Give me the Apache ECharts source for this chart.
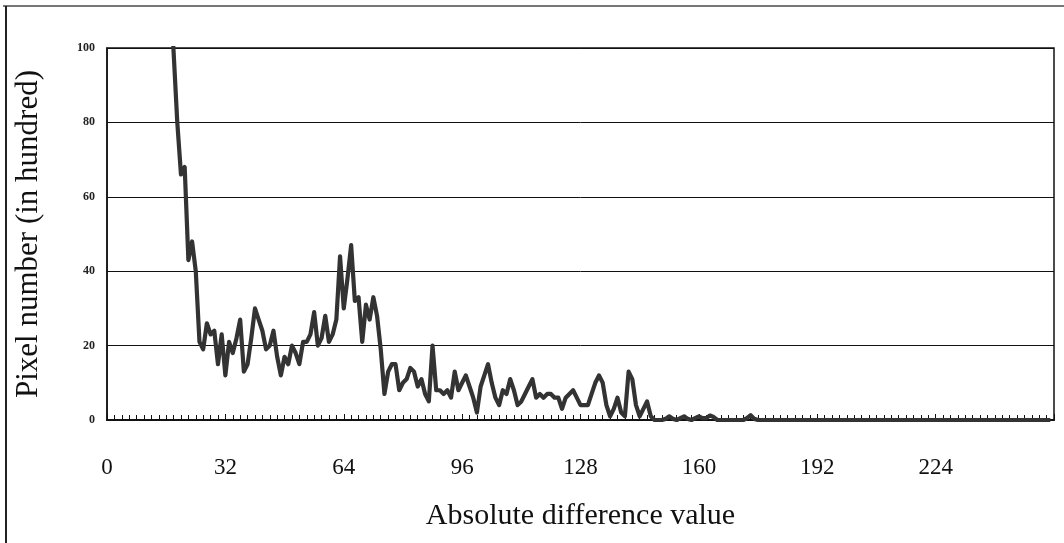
<!DOCTYPE html>
<html>
<head>
<meta charset="utf-8">
<script src="https://cdn.jsdelivr.net/npm/echarts@6/dist/echarts.min.js"></script>
<style>
html,body{margin:0;padding:0;background:#fff;}
#chart{width:1064px;height:543px;}
</style>
</head>
<body>
<div id="chart"></div>
<script>
// Absolute difference values (x) starting at 17
const xStart = 17;
const pixelCounts = [
  118, 99, 80, 66, 68, 43, 48, 40, 21, 19, 26, 23, 24, 15, 23, 12, 21, 18, 22, 27,
  13, 15, 22, 30, 27, 24, 19, 20, 24, 17, 12, 17, 15, 20, 18, 15, 21, 21, 23, 29,
  20, 22, 28, 21, 23, 27, 44, 30, 38, 47, 32, 33, 21, 31, 27, 33, 28, 19, 7, 13,
  15, 15, 8, 10, 11, 14, 13, 9, 11, 7, 5, 20, 8, 8, 7, 8, 6, 13, 8, 10,
  12, 9, 6, 2, 9, 12, 15, 10, 6, 4, 8, 7, 11, 8, 4, 5, 7, 9, 11, 6,
  7, 6, 7, 7, 6, 6, 3, 6, 7, 8, 6, 4, 4, 4, 7, 10, 12, 10, 4, 1,
  3, 6, 2, 1, 13, 11, 4, 1, 3, 5, 1, 0, 0, 0, 0.3, 1, 0.3, 0, 0.5, 1,
  0.3, 0, 0.5, 1, 0.5, 0.5, 1.2, 0.8, 0, 0, 0, 0, 0, 0, 0, 0, 0.5, 1.3, 0.3, 0
];
const tailZeros = 256 - (xStart + pixelCounts.length);
const yTicks = [0, 20, 40, 60, 80, 100];
const xTicks = [0, 32, 64, 96, 128, 160, 192, 224];

const seriesData = [];
pixelCounts.forEach((v, i) => seriesData.push([xStart + i, v]));
for (let k = 0; k < tailZeros; k++) seriesData.push([xStart + pixelCounts.length + k, 0]);

const serif = "'Liberation Serif','Times New Roman',serif";
const chart = echarts.init(document.getElementById('chart'), null, {renderer: 'canvas'});
chart.setOption({
  animation: false,
  backgroundColor: '#fff',
  grid: {left: 107, right: 10, top: 48, bottom: 123, show: true, borderColor: '#111', borderWidth: 1.5},
  graphic: [
    {type: 'line', shape: {x1: 3, y1: 6, x2: 1064, y2: 6}, style: {stroke: '#777', lineWidth: 2}},
    {type: 'line', shape: {x1: 6, y1: 6, x2: 6, y2: 543}, style: {stroke: '#222', lineWidth: 2}}
  ],
  xAxis: {
    type: 'value', min: 0, max: 256, interval: 32,
    name: 'Absolute difference value', nameLocation: 'middle', nameGap: 81,
    nameTextStyle: {fontFamily: serif, fontSize: 30, color: '#111'},
    axisLine: {show: true, onZero: false, lineStyle: {color: '#111', width: 2}},
    axisTick: {show: true, inside: true, length: 6, lineStyle: {color: '#111', width: 1}},
    minorTick: {show: true, splitNumber: 16, length: 5, lineStyle: {color: '#111', width: 1}},
    axisLabel: {
      margin: 36, fontFamily: serif, fontSize: 23, color: '#111', showMaxLabel: false,
      formatter: v => (xTicks.indexOf(v) >= 0 ? String(v) : '')
    },
    splitLine: {show: false}
  },
  yAxis: {
    type: 'value', min: 0, max: 100, interval: 20,
    name: 'Pixel number (in hundred)', nameLocation: 'middle', nameGap: 63, nameRotate: 90,
    nameTextStyle: {fontFamily: serif, fontSize: 31, color: '#111'},
    axisLine: {show: true, lineStyle: {color: '#111', width: 1.5}},
    axisTick: {show: false},
    axisLabel: {
      margin: 12, fontFamily: serif, fontSize: 12, fontWeight: 'bold', color: '#222',
      formatter: v => (yTicks.indexOf(v) >= 0 ? String(v) : '')
    },
    splitLine: {show: true, lineStyle: {color: '#111', width: 1}}
  },
  series: [{
    type: 'line', data: seriesData, showSymbol: false, clip: true,
    lineStyle: {color: '#333', width: 4.2, join: 'round'}, z: 3
  }]
});
</script>
</body>
</html>
